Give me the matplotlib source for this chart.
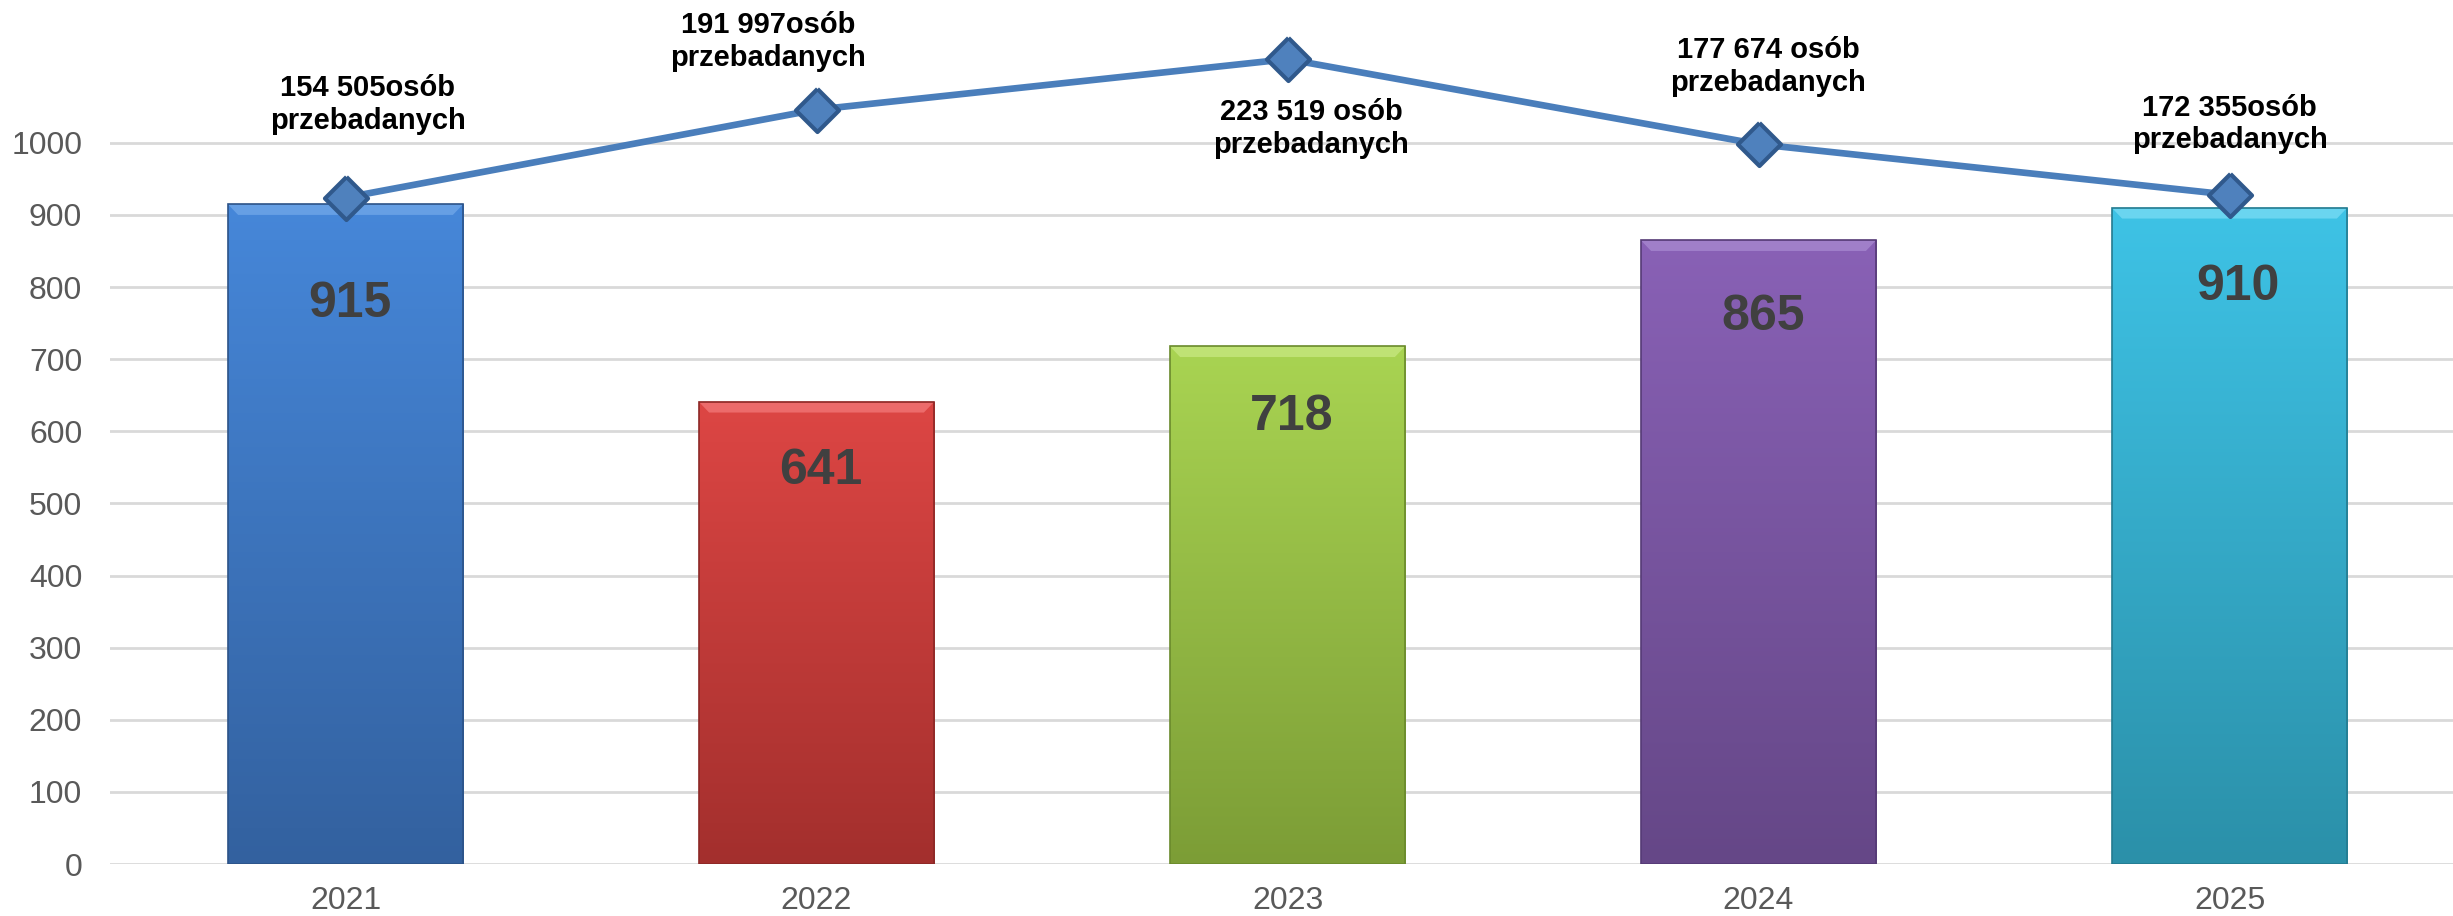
import matplotlib
matplotlib.use("Agg")
import matplotlib.pyplot as plt
import numpy as np
from matplotlib.colors import LinearSegmentedColormap
from matplotlib.patches import Polygon

# dane
years = ["2021", "2022", "2023", "2024", "2025"]
bar_values = [915, 641, 718, 865, 910]
# wysokosc linii (os pomocnicza, ukryta)
line_values = [924, 1046, 1116, 998, 928]
line_labels = ["154 505osób\nprzebadanych", "191 997osób\nprzebadanych",
               "223 519 osób\nprzebadanych", "177 674 osób\nprzebadanych",
               "172 355osób\nprzebadanych"]

top_colors = ["#4687d9", "#dd4644", "#a9d452", "#8961b6", "#3ec3e6"]
bottom_colors = ["#33619f", "#a32f2d", "#7c9d36", "#654787", "#2b90a9"]
edge_colors = ["#2c5388", "#8c2826", "#6a8a2c", "#553a75", "#247b90"]
bevel_colors = ["#6aa2e6", "#ee7070", "#c2e47a", "#a383cc", "#70d8f2"]

label_offsets = [(16, 67), (-35, 49), (17, -50), (7, 56), (0, 51)]  # punkty
value_offsets = [(3, -72), (3, -50), (3, -51), (3, -55), (6, -57)]

W = 0.5
diamond = [(0, 1), (1, 0), (0, -1), (-1, 0), (0, 1)]

fig = plt.figure(figsize=(24.53, 9.16), dpi=100)
ax = fig.add_axes([110 / 2453, 52 / 916, 1 - 110 / 2453, 1 - 52 / 916])

x = np.arange(len(years))
bars = ax.bar(x, bar_values, width=W, color="none", edgecolor="none", zorder=2)

grad = np.linspace(1, 0, 256).reshape(-1, 1)
for i, b in enumerate(bars):
    x0, x1 = b.get_x(), b.get_x() + b.get_width()
    h = b.get_height()
    cmap = LinearSegmentedColormap.from_list("g%d" % i, [bottom_colors[i], top_colors[i]])
    im = ax.imshow(grad, extent=[x0, x1, 0, h], aspect="auto", cmap=cmap,
                   vmin=0, vmax=1, zorder=2, origin="upper")
    im.set_clip_path(b)
    # skosna krawedz u gory
    dx, dy = 0.022, 15
    bev = Polygon([[x0, h], [x1, h], [x1 - dx, h - dy], [x0 + dx, h - dy]],
                  closed=True, facecolor=bevel_colors[i], edgecolor="none",
                  alpha=0.9, zorder=3)
    ax.add_patch(bev)
    ax.add_patch(plt.Rectangle((x0, 0), x1 - x0, h, fill=False,
                               edgecolor=edge_colors[i], lw=1.2, zorder=4))
    ax.annotate(str(bar_values[i]), (x[i], h), xytext=value_offsets[i],
                textcoords="offset points", ha="center", va="center",
                fontsize=36, fontweight="bold", color="#404040",
                family=["Liberation Sans", "DejaVu Sans"], zorder=6)

ax.plot(x, line_values, color="#4a7ebb", lw=4.8, marker=diamond, ms=31,
        markerfacecolor="#4f81bd", markeredgecolor="#30598c", mew=3, zorder=5)

for i in range(len(years)):
    ax.annotate(line_labels[i], (x[i], line_values[i]), xytext=label_offsets[i],
                textcoords="offset points", ha="center", va="center",
                fontsize=21, fontweight="bold", color="black", linespacing=1.2,
                family=["Liberation Sans Narrow", "Liberation Sans", "DejaVu Sans"],
                zorder=6)

ax.set_xlim(-0.5, -0.5 + (2453 - 110) / 471)
ax.set_ylim(0, 1198)
ax.set_yticks(range(0, 1001, 100))
ax.set_xticks(x)
ax.set_xticklabels(years)
ax.yaxis.grid(True, color="#d9d9d9", lw=2)
ax.set_axisbelow(True)
for s in ax.spines.values():
    s.set_visible(False)
ax.tick_params(axis="both", length=0, labelsize=23, labelcolor="#595959")
ax.tick_params(axis="y", pad=20)
ax.tick_params(axis="x", pad=16)
for lab in ax.get_xticklabels() + ax.get_yticklabels():
    lab.set_family(["Liberation Sans", "DejaVu Sans"])

fig.savefig("out.png", dpi=100)
